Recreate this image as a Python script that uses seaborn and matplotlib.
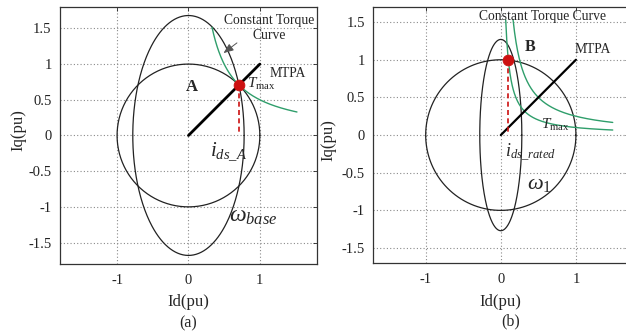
import numpy as np
import pandas as pd
import matplotlib
matplotlib.use("Agg")
import matplotlib.pyplot as plt
import seaborn as sns

# ---- operating-region parameters (per-unit) ----
current_limit = [1.0, 1.0]            # current-limit circle radius, panels (a) and (b)
voltage_semi_d = [0.78, 0.28]         # voltage-limit ellipse semi-axis along Id
voltage_semi_q = [1.68, 1.27]         # voltage-limit ellipse semi-axis along Iq
torque_const_a = [0.5]                # Id*Iq of the constant-torque curve in (a)
torque_const_b = [0.10, 0.25]         # Id*Iq of the constant-torque curves in (b)
torque_id_range_a = [0.33, 1.52]
torque_iq_top_b = 1.53                # torque curves in (b) start at this Iq
torque_id_end_b = 1.49
mtpa_end = [1.0, 1.0]                 # MTPA line end point (Id, Iq)
point_b = [0.09]                      # Id of the rated operating point B
x_ticks = [-1, 0, 1]
y_ticks = [-1.5, -1, -0.5, 0, 0.5, 1, 1.5]
x_tick_labels = ["-1", "0", "1"]
y_tick_labels = ["-1.5", "-1", "-0.5", "0", "0.5", "1", "1.5"]

sns.set_theme(style="white")
plt.rcParams["font.family"] = ["Liberation Serif", "DejaVu Serif"]
plt.rcParams["mathtext.fontset"] = "custom"
plt.rcParams["mathtext.rm"] = "Liberation Serif"
plt.rcParams["mathtext.it"] = "Liberation Serif:italic"
plt.rcParams["mathtext.bf"] = "Liberation Serif:bold"

GREEN = "#2f9e6b"
RED = "#cc1111"

fig = plt.figure(figsize=(6.26, 3.36), dpi=100)
ax_a = fig.add_axes([0.0958, 0.2143, 0.4105, 0.765])
ax_b = fig.add_axes([0.596, 0.217, 0.408, 0.762])


def closed_curve(rx, ry, n=400):
    t = np.linspace(0, 2 * np.pi, n)
    return pd.DataFrame({"Id": rx * np.cos(t), "Iq": ry * np.sin(t)})


def hyperbola(c, lo, hi, n=200):
    d = np.linspace(lo, hi, n)
    return pd.DataFrame({"Id": d, "Iq": c / d})


def style_axes(ax, lim):
    ax.set_xlim(-lim, lim)
    ax.set_ylim(-lim, lim)
    ax.set_xticks(x_ticks)
    ax.set_xticklabels(x_tick_labels)
    ax.set_yticks(y_ticks)
    ax.set_yticklabels(y_tick_labels)
    ax.grid(True, color="#8a8a8a", linestyle=(0, (1, 2)), linewidth=0.8)
    ax.tick_params(axis="both", direction="in", length=3, width=0.6,
                   labelsize=10.5, colors="#222222", top=True, right=True)
    ax.tick_params(axis="x", pad=7)
    ax.tick_params(axis="y", pad=6)
    for s in ax.spines.values():
        s.set_color("#333333")
        s.set_linewidth(0.9)
    ax.set_xlabel("Id(pu)", fontsize=12)
    ax.set_ylabel("Iq(pu)", fontsize=12)


def intersection(r, a, b):
    x2 = (1 - r**2 / b**2) / (1 / a**2 - 1 / b**2)
    x = np.sqrt(x2)
    return x, np.sqrt(r**2 - x2)


def limit_curves(ax, k):
    sns.lineplot(data=closed_curve(current_limit[k], current_limit[k]), x="Id", y="Iq",
                 sort=False, estimator=None, color="#222222", lw=0.9, ax=ax)
    sns.lineplot(data=closed_curve(voltage_semi_d[k], voltage_semi_q[k]), x="Id", y="Iq",
                 sort=False, estimator=None, color="#222222", lw=0.9, ax=ax)


# ---------------- panel (a) ----------------
ax = ax_a
style_axes(ax, 1.8)
limit_curves(ax, 0)
sns.lineplot(data=hyperbola(torque_const_a[0], *torque_id_range_a), x="Id", y="Iq",
             sort=False, estimator=None, color=GREEN, lw=1.0, ax=ax)
sns.lineplot(x=[0, mtpa_end[0]], y=[0, mtpa_end[1]], color="black", lw=2.0, ax=ax)
tx, ty = intersection(current_limit[0], voltage_semi_d[0], voltage_semi_q[0])
ax.plot([tx, tx], [ty, 0], color=RED, lw=1.2, ls=(0, (3, 2)))
sns.scatterplot(x=[tx], y=[ty], color=RED, s=60, edgecolor=RED, zorder=5, ax=ax)

ax.text(1.13, 1.505, "Constant Torque\nCurve", ha="center", va="center",
        fontsize=9.8, linespacing=1.25)
ax.annotate("", xy=(0.46, 1.13), xytext=(0.71, 1.32),
            arrowprops=dict(arrowstyle="-|>,head_length=0.5,head_width=0.2",
                            color="#555555", lw=0.7))
ax.text(0.05, 0.68, "A", fontsize=12, fontweight="bold", ha="center", va="center")
ax.text(1.39, 0.87, "MTPA", fontsize=9.8, ha="center", va="center")
ax.text(0.82, 0.72, r"$T_{\rm max}$", fontsize=11, ha="left", va="center")
ax.text(0.30, -0.22, r"$i_{ds\_A}$", fontsize=15, ha="left", va="center")
ax.text(0.57, -1.13, r"$\omega_{base}$", fontsize=17, ha="left", va="center")

# ---------------- panel (b) ----------------
ax = ax_b
style_axes(ax, 1.7)
limit_curves(ax, 1)
for c in torque_const_b:
    sns.lineplot(data=hyperbola(c, c / torque_iq_top_b, torque_id_end_b), x="Id", y="Iq",
                 sort=False, estimator=None, color=GREEN, lw=1.0, ax=ax)
sns.lineplot(x=[0, mtpa_end[0]], y=[0, mtpa_end[1]], color="black", lw=1.6, ax=ax)
bx = point_b[0]
by = np.sqrt(current_limit[1]**2 - bx**2)
ax.plot([bx, bx], [by, 0], color=RED, lw=1.2, ls=(0, (3, 2)))
sns.scatterplot(x=[bx], y=[by], color=RED, s=60, edgecolor=RED, zorder=5, ax=ax)

ax.text(0.56, 1.57, "Constant Torque Curve", fontsize=9.8, ha="center", va="center")
ax.text(0.39, 1.17, "B", fontsize=11.5, fontweight="bold", ha="center", va="center")
ax.text(1.22, 1.13, "MTPA", fontsize=9.8, ha="center", va="center")
ax.text(0.53, 0.13, r"$T_{\rm max}$", fontsize=11, ha="left", va="center")
ax.text(0.05, -0.22, r"$i_{ds\_rated}$", fontsize=13, ha="left", va="center")
ax.text(0.35, -0.65, r"$\omega_1$", fontsize=16, ha="left", va="center")

for a, xl, yl in [(ax_a, (0.498, -0.117), (-0.132, 0.52)),
                  (ax_b, (0.497, -0.121), (-0.145, 0.48))]:
    a.xaxis.set_label_coords(*xl)
    a.yaxis.set_label_coords(*yl)

fig.text(0.300, 0.039, "(a)", fontsize=11.5, ha="center", va="center")
fig.text(0.815, 0.042, "(b)", fontsize=11.5, ha="center", va="center")

fig.savefig("out.png", dpi=100, facecolor="white")
